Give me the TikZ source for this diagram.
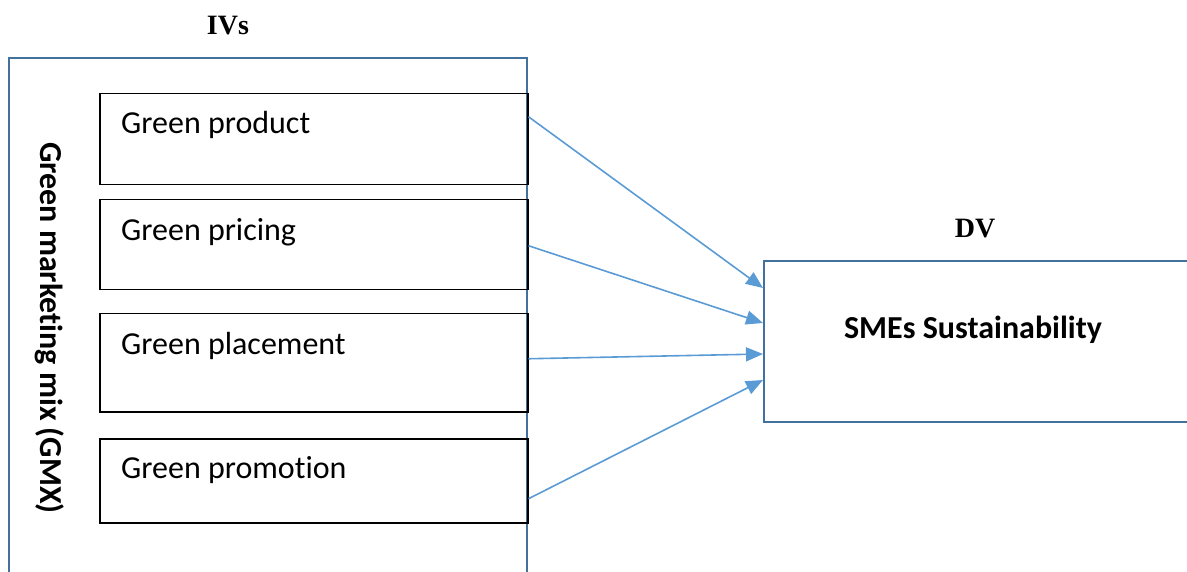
\documentclass[tikz,border=0pt]{standalone}
\usepackage{fontspec}
\setmainfont{Carlito}[Ligatures=NoCommon]
\newfontfamily\headfont{Liberation Serif}
\usepackage{xcolor}
\usetikzlibrary{positioning, arrows.meta}

\definecolor{framecol}{HTML}{41719C}
\definecolor{arrowcol}{HTML}{5B9BD5}

\begin{document}
\begin{tikzpicture}[
    x=1pt, y=-1pt,
    ivbox/.style={rectangle, draw=black, line width=1.5pt, anchor=north west, minimum width=428pt, inner sep=0pt},
    boxtext/.style={anchor=base west, font=\fontsize{32}{36}\selectfont, inner sep=0pt},
    head/.style={font=\headfont\bfseries\fontsize{28}{32}\selectfont, inner sep=0pt},
    arrow/.style={-{Triangle[length=17pt, width=14pt]}, line width=1.6pt, draw=arrowcol}
]
\useasboundingbox (0,0) rectangle (1187,572);
\clip (0,0) rectangle (1187,572);

\draw[framecol, line width=2pt] (9,590) -- (9,58) -- (527,58) -- (527,590);
\node[head] (ivs) at (228,26) {IVs};
\node[rotate=-90, font=\bfseries\fontsize{32}{36}\selectfont, inner sep=0pt] (gmx) at (50,328) {Green marketing mix (GMX)};

\node[ivbox, minimum height=91pt] (gprod) at (99,93) {};
\node[ivbox, minimum height=90pt] (gpric) at (99,199) {};
\node[ivbox, minimum height=98pt] (gplac) at (99,313) {};
\node[ivbox, minimum height=84pt] (gprom) at (99,438) {};

\node[boxtext] (gprod-t) at ([xshift=22pt, yshift=-41pt]gprod.north west) {Green product};
\node[boxtext] (gpric-t) at ([xshift=22pt, yshift=-42pt]gpric.north west) {Green pricing};
\node[boxtext] (gplac-t) at ([xshift=22pt, yshift=-42pt]gplac.north west) {Green placement};
\node[boxtext] (gprom-t) at ([xshift=22pt, yshift=-40pt]gprom.north west) {Green promotion};

\node[rectangle, draw=framecol, line width=2pt, anchor=north west, minimum width=450pt, minimum height=161pt, inner sep=0pt] (dv) at (763,260) {};
\node[head] (dv-t) at (975,229) {DV};
\node[font=\bfseries\fontsize{32}{36}\selectfont, inner sep=0pt] (sme) at (973,330) {SMEs Sustainability};

\draw[arrow] ([yshift=22.5pt]gprod.east) -- ([yshift=53.5pt]dv.west);
\draw[arrow] ([yshift=-1pt]gpric.east) -- ([yshift=18.5pt]dv.west);
\draw[arrow] ([yshift=4pt]gplac.east) -- ([yshift=-12.5pt]dv.west);
\draw[arrow] ([yshift=-18pt]gprom.east) -- ([yshift=-38.5pt]dv.west);

\end{tikzpicture}
\end{document}
